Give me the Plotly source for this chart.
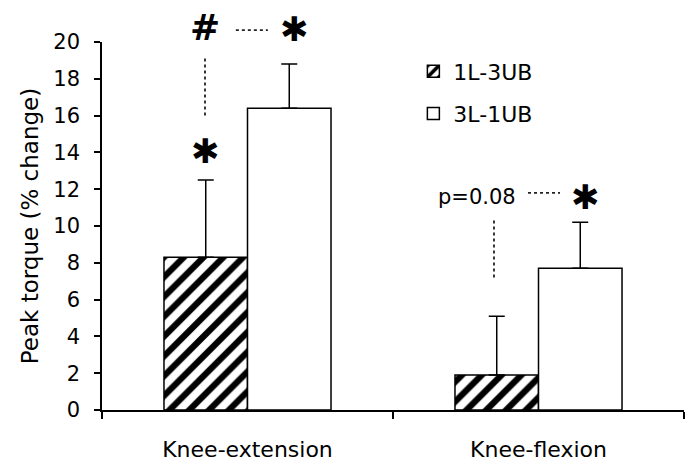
import plotly.graph_objects as go

# Peak torque change by movement and training order
categories = ["Knee-extension", "Knee-flexion"]
series_names = ["1L-3UB", "3L-1UB"]
torque_1l3ub = [8.3, 1.9]
torque_3l1ub = [16.4, 7.7]
sd_1l3ub = [4.2, 3.2]
sd_3l1ub = [2.4, 2.5]
y_ticks = [0, 2, 4, 6, 8, 10, 12, 14, 16, 18, 20]

FONT = "DejaVu Sans"

fig = go.Figure()

fig.add_trace(go.Bar(
    x=categories, y=torque_1l3ub, name=series_names[0], legend="legend",
    marker=dict(color="white", line=dict(color="black", width=1.5),
                pattern=dict(shape="/", fgcolor="black", bgcolor="white",
                             fillmode="replace", fgopacity=1,
                             size=14, solidity=0.45)),
    error_y=dict(type="data", array=sd_1l3ub, arrayminus=[0, 0], symmetric=False,
                 color="black", thickness=1.5, width=8),
))
fig.add_trace(go.Bar(
    x=categories, y=torque_3l1ub, name=series_names[1], legend="legend2",
    marker=dict(color="white", line=dict(color="black", width=1.5)),
    error_y=dict(type="data", array=sd_3l1ub, arrayminus=[0, 0], symmetric=False,
                 color="black", thickness=1.5, width=8),
))

# significance markers (x offsets in category units)
dot = dict(color="#222222", width=1.8, dash="dot")
shapes = [
    dict(type="line", xref="x", yref="y", x0=-0.146, x1=-0.146, y0=16.0, y1=19.2, line=dot),
    dict(type="line", xref="x", yref="paper", x0=-0.04, x1=0.07, y0=1.032, y1=1.032, line=dot),
    dict(type="line", xref="x", yref="y", x0=0.847, x1=0.847, y0=7.2, y1=10.4, line=dot),
    dict(type="line", xref="x", yref="y", x0=0.964, x1=1.074, y0=11.8, y1=11.8, line=dot),
]
star = dict(family=FONT, size=34)
annotations = [
    dict(x=-0.146, y=1.04, yref="paper", text="#",
         font=dict(family=FONT, size=36, weight="bold")),
    dict(x=-0.146, y=14.1, yref="y", text="✱", font=dict(star)),
    dict(x=0.163, y=1.035, yref="paper", text="✱", font=dict(star)),
    dict(x=0.79, y=11.6, yref="y", text="p=0.08", font=dict(family=FONT, size=21)),
    dict(x=1.16, y=11.6, yref="y", text="✱", font=dict(star)),
]
for a in annotations:
    a.update(xref="x", showarrow=False, xanchor="center", yanchor="middle")
    a["font"]["color"] = "black"

fig.update_layout(
    width=694, height=463,
    margin=dict(l=102, r=10, t=42, b=53),
    paper_bgcolor="white", plot_bgcolor="white",
    barmode="group", bargap=0.426, bargroupgap=0,
    font=dict(family=FONT, size=21, color="black"),
    shapes=shapes, annotations=annotations,
    legend=dict(x=0.535, y=0.92, xanchor="left", yanchor="middle",
                font=dict(size=22), bgcolor="rgba(0,0,0,0)"),
    legend2=dict(x=0.535, y=0.805, xanchor="left", yanchor="middle",
                 font=dict(size=22), bgcolor="rgba(0,0,0,0)"),
    showlegend=True,
)
fig.update_xaxes(
    type="category", range=[-0.5, 1.5], automargin=False,
    showline=True, linecolor="black", linewidth=1.5,
    ticks="outside", tickson="boundaries", ticklen=7, tickcolor="black", tickwidth=1.5,
    tickfont=dict(size=22), ticklabelstandoff=19,
    showgrid=False, zeroline=False,
)
fig.update_yaxes(
    range=[0, 20], tickvals=y_ticks, automargin=False,
    showline=True, linecolor="black", linewidth=1.5,
    ticks="outside", ticklen=6, tickcolor="black", tickwidth=1.5,
    tickfont=dict(size=21), ticklabelstandoff=10,
    title=dict(text="Peak torque (% change)", font=dict(size=23), standoff=8),
    showgrid=False, zeroline=False,
)

fig.write_html("out.html")
